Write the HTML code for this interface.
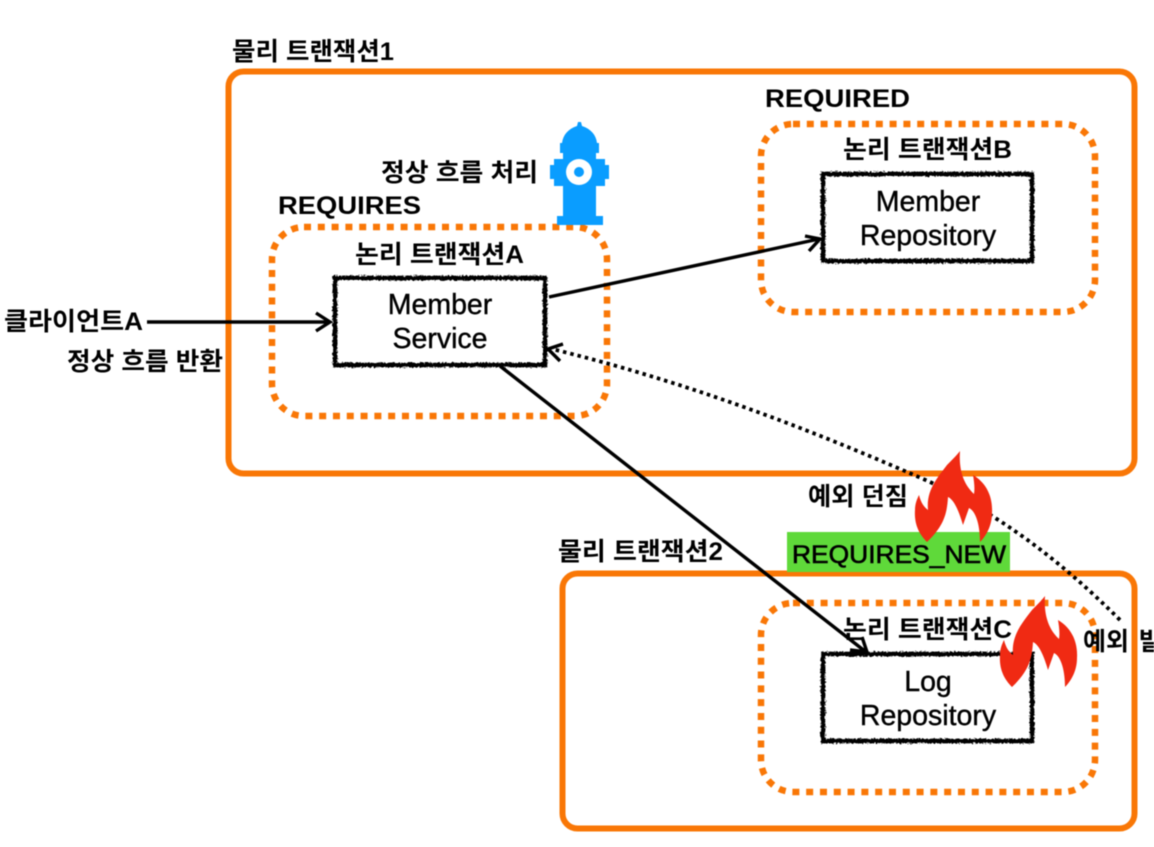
<!DOCTYPE html>
<html><head><meta charset="utf-8"><style>
html,body{margin:0;padding:0;background:#fff;width:1154px;height:847px;overflow:hidden}
svg{display:block;filter:blur(0.4px)}
text{font-family:"Liberation Sans","Noto Sans CJK KR",sans-serif;fill:#000}
.b{font-weight:700;font-size:25px}
.k{font-weight:700;font-size:25px}
.n{font-size:25px;stroke:#000;stroke-width:.6px}
.m{font-size:28.500px;text-anchor:middle;stroke:#000;stroke-width:.4px}
.o{fill:none;stroke:#f97706}
.d{fill:none;stroke:#f97706;stroke-width:6.500px;stroke-dasharray:7 6.800}
.s{fill:#fff;stroke:#000;stroke-width:4.600px;filter:url(#sk)}
.l{fill:none;stroke:#000;stroke-width:3.400px}
</style></head><body>
<svg width="1154" height="847" viewBox="0 0 1154 847" xmlns="http://www.w3.org/2000/svg">
<defs>
<filter id="sk" x="-5%" y="-8%" width="110%" height="116%"><feTurbulence type="fractalNoise" baseFrequency="0.5" numOctaves="2" seed="3"/><feDisplacementMap in="SourceGraphic" scale="4" xChannelSelector="R" yChannelSelector="G"/></filter>
<path id="flame" fill="#f02a13" d="M927 542C919 534 914 524 915 510C915 504 917 499 919 495C921 503 924 507 928 510C926 490 938 477 947 465C952 460 957 455 960 451C959 465 961 482 974 494C975 488 974 481 973 475C985 482 993 495 992 513C992 526 986 536 980 542C980 528 977 512 969 508L963 525C960 515 955 500 948 497C947 512 945 525 927 542Z"/>
</defs>
<rect class="o" stroke-width="6" x="228.500" y="71.500" width="906" height="402" rx="15"/>
<rect class="o" stroke-width="6" x="562.500" y="573.500" width="572" height="255" rx="15"/>
<rect class="d" x="272" y="227" width="335" height="189" rx="32"/>
<rect class="d" x="761" y="124" width="334" height="188" rx="32"/>
<rect class="d" x="761" y="603" width="334" height="189" rx="32"/>
<rect class="s" x="335" y="278" width="210" height="87"/>
<rect class="s" x="823" y="174" width="209" height="87"/>
<rect class="s" x="823" y="654" width="209" height="87"/>
<text class="m" x="440" y="314">Member</text><text class="m" x="440" y="348">Service</text>
<text class="m" x="928" y="211">Member</text><text class="m" x="928" y="245">Repository</text>
<text class="m" x="928" y="691">Log</text><text class="m" x="928" y="725">Repository</text>
<rect x="787" y="532" width="223" height="40" fill="#5fd93a"/>
<text class="n" x="792" y="563" textLength="214" lengthAdjust="spacingAndGlyphs">REQUIRES_NEW</text>
<path class="l" d="M147 322H329M316 313L330 322L316 331"/>
<path class="l" d="M549 297L819 239M805 236L820 239L809 251"/>
<path class="l" d="M500 366L866 652M850 650L867 652L862 637"/>
<path fill="none" stroke="#000" stroke-width="3.800" stroke-dasharray="3.500 4" d="M1120 620C1060 560 1000 515 930 482C830 438 700 385 552 349"/>
<path class="l" d="M563 344L548 349L560 361"/>
<use href="#flame"/>
<use href="#flame" transform="translate(85 145)"/>
<g fill="#0a9dff">
<path d="M578 122H581L582 126C591 129 596 135 597 143H599V153H560V143H562C563 135 568 129 577 126Z"/>
<rect x="563" y="153" width="33" height="64"/>
<rect x="554" y="159" width="51" height="27"/>
<rect x="550" y="165" width="59" height="14"/>
<rect x="557" y="216" width="46" height="9"/>
</g>
<circle cx="579" cy="172" r="13" fill="#fff"/>
<circle cx="579" cy="172" r="5" fill="#0a9dff"/>
<text class="k" x="232" y="60" textLength="162" lengthAdjust="spacingAndGlyphs">물리 트랜잭션1</text>
<text class="k" x="558" y="560" textLength="165" lengthAdjust="spacingAndGlyphs">물리 트랜잭션2</text>
<text class="b" x="765" y="107" textLength="145" lengthAdjust="spacingAndGlyphs">REQUIRED</text>
<text class="b" x="278" y="214" textLength="143" lengthAdjust="spacingAndGlyphs">REQUIRES</text>
<text class="k" x="381" y="181" textLength="157" lengthAdjust="spacingAndGlyphs">정상 흐름 처리</text>
<text class="k" x="355" y="263" textLength="169" lengthAdjust="spacingAndGlyphs">논리 트랜잭션A</text>
<text class="k" x="843" y="158" textLength="169" lengthAdjust="spacingAndGlyphs">논리 트랜잭션B</text>
<text class="k" x="843" y="638" textLength="169" lengthAdjust="spacingAndGlyphs">논리 트랜잭션C</text>
<text class="k" x="4" y="330" textLength="139" lengthAdjust="spacingAndGlyphs">클라이언트A</text>
<text class="k" x="67" y="370" textLength="156" lengthAdjust="spacingAndGlyphs">정상 흐름 반환</text>
<text class="k" x="808" y="505" textLength="100" lengthAdjust="spacingAndGlyphs">예외 던짐</text>
<text class="k" x="1083" y="650" word-spacing="3">예외 발생</text>
</svg>
</body></html>
